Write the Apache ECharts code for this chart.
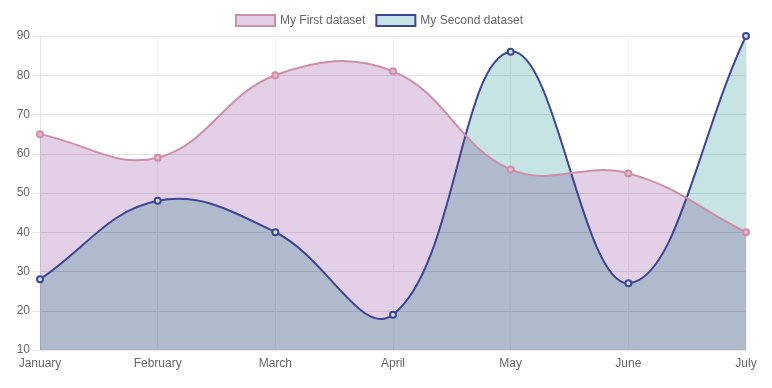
<!DOCTYPE html>
<html>
<head>
<meta charset="utf-8">
<script src="https://cdn.jsdelivr.net/npm/echarts@6/dist/echarts.min.js"></script>
<style>html,body{margin:0;padding:0;background:#fff;}#c{width:772px;height:388px;}</style>
</head>
<body>
<div id="c"></div>
<script>
const categories = ['January', 'February', 'March', 'April', 'May', 'June', 'July'];
const firstName = 'My First dataset';
const secondName = 'My Second dataset';
const firstValues = [65, 59, 80, 81, 56, 55, 40];
const secondValues = [28, 48, 40, 19, 86, 27, 90];
const yTicks = [10, 20, 30, 40, 50, 60, 70, 80, 90];

const c1Line = '#cf8ea8', c1Fill = '#e3d0e6', c1Point = '#e2b8cc';
const c2Line = '#3d4597', c2Fill = '#c6e4e4', c2Point = '#c6e4e4';
const font = 'Liberation Sans, Arial, Helvetica, sans-serif';
const tension = 0.4;

// Chart.js-style spline (tension) through pixel points obtained from the axes
function splinePath(api, values) {
  const pts = values.map((v, i) => api.coord([i, v]));
  const n = pts.length;
  const cps = pts.map((cur, i) => {
    const prev = pts[Math.max(0, i - 1)];
    const next = pts[Math.min(n - 1, i + 1)];
    const d01 = Math.hypot(cur[0] - prev[0], cur[1] - prev[1]);
    const d12 = Math.hypot(next[0] - cur[0], next[1] - cur[1]);
    let s01 = d01 / (d01 + d12), s12 = d12 / (d01 + d12);
    if (isNaN(s01)) s01 = 0;
    if (isNaN(s12)) s12 = 0;
    const fa = tension * s01, fb = tension * s12;
    return {
      p: [cur[0] - fa * (next[0] - prev[0]), cur[1] - fa * (next[1] - prev[1])],
      n: [cur[0] + fb * (next[0] - prev[0]), cur[1] + fb * (next[1] - prev[1])]
    };
  });
  let d = 'M' + pts[0][0] + ' ' + pts[0][1];
  for (let i = 1; i < n; i++) {
    d += ' C' + cps[i - 1].n[0] + ' ' + cps[i - 1].n[1] + ' ' + cps[i].p[0] + ' ' + cps[i].p[1] + ' ' + pts[i][0] + ' ' + pts[i][1];
  }
  return {d: d, pts: pts};
}

function areaRenderer(values, fillColor) {
  return function (params, api) {
    if (params.dataIndex !== 0) return null;
    const s = splinePath(api, values);
    const n = s.pts.length;
    const base = api.coord([0, yTicks[0]])[1];
    const area = s.d + ' L' + s.pts[n - 1][0] + ' ' + base + ' L' + s.pts[0][0] + ' ' + base + ' Z';
    return {type: 'path', shape: {pathData: area}, style: {fill: fillColor, stroke: null}};
  };
}

function lineRenderer(values, lineColor, pointColor) {
  return function (params, api) {
    const children = [];
    const s = splinePath(api, values);
    if (params.dataIndex === 0) {
      children.push({type: 'path', shape: {pathData: s.d}, style: {fill: null, stroke: lineColor, lineWidth: 2}, z2: 1});
    }
    const p = s.pts[params.dataIndex];
    children.push({type: 'circle', shape: {cx: p[0], cy: p[1], r: 3}, style: {fill: pointColor, stroke: lineColor, lineWidth: 2}, z2: 2});
    return {type: 'group', children: children};
  };
}

const seriesDefs = [
  {name: secondName, values: secondValues, line: c2Line, fill: c2Fill, point: c2Point, z: 2},
  {name: firstName, values: firstValues, line: c1Line, fill: c1Fill, point: c1Point, z: 3}
];
const series = [];
seriesDefs.forEach(s => {
  series.push({
    name: s.name, type: 'custom', blendMode: 'multiply',
    data: s.values.map((v, i) => [i, v]), encode: {x: 0, y: 1},
    itemStyle: {color: s.fill, borderColor: s.line},
    renderItem: areaRenderer(s.values, s.fill), z: 2
  });
});
seriesDefs.forEach(s => {
  series.push({
    name: s.name, type: 'custom',
    data: s.values.map((v, i) => [i, v]), encode: {x: 0, y: 1},
    itemStyle: {color: s.fill, borderColor: s.line},
    renderItem: lineRenderer(s.values, s.line, s.point), z: s.z + 2
  });
});

const chart = echarts.init(document.getElementById('c'), null, {renderer: 'canvas'});
chart.setOption({
  backgroundColor: '#fff',
  animation: false,
  textStyle: {fontFamily: font},
  legend: {
    top: 14, left: 235, padding: 0,
    itemWidth: 39, itemHeight: 11, itemGap: 10,
    icon: 'rect',
    textStyle: {color: '#666', fontSize: 12, fontFamily: font},
    data: [
      {name: firstName, itemStyle: {color: c1Fill, borderColor: c1Line, borderWidth: 2}},
      {name: secondName, itemStyle: {color: c2Fill, borderColor: c2Line, borderWidth: 2}}
    ]
  },
  grid: {left: 40, right: 26, top: 36, bottom: 38, containLabel: false},
  xAxis: {
    type: 'category', data: categories, boundaryGap: false,
    axisLine: {show: true, lineStyle: {color: '#e4e4e4'}},
    axisTick: {show: false},
    axisLabel: {color: '#666', fontSize: 12, fontFamily: font, margin: 8},
    splitLine: {show: true, lineStyle: {color: '#f2f2f2'}}
  },
  yAxis: {
    type: 'value', min: yTicks[0], max: yTicks[yTicks.length - 1], interval: 10,
    axisLine: {show: true, lineStyle: {color: '#e4e4e4'}},
    axisTick: {show: true, length: 8, lineStyle: {color: '#e6e6e6'}},
    axisLabel: {color: '#666', fontSize: 12, fontFamily: font, margin: 10},
    splitLine: {show: true, lineStyle: {color: '#e6e6e6'}}
  },
  series: series
});
</script>
</body>
</html>
